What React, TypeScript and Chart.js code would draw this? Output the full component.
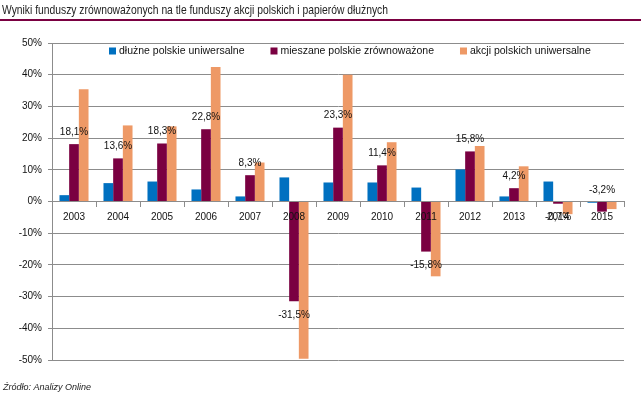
import React, { useEffect, useRef } from "react";
import { Chart, registerables } from "chart.js";

Chart.register(...registerables);

const categories = ["2003", "2004", "2005", "2006", "2007", "2008", "2009", "2010", "2011", "2012", "2013", "2014", "2015"];
const seriesNames = ["dłużne polskie uniwersalne", "mieszane polskie zrównoważone", "akcji polskich uniwersalne"];
const dluzne = [2.0, 5.8, 6.3, 3.8, 1.6, 7.6, 6.0, 6.0, 4.4, 10.1, 1.6, 6.3, -0.4];
const mieszane = [18.1, 13.6, 18.3, 22.8, 8.3, -31.5, 23.3, 11.4, -15.8, 15.8, 4.2, -0.7, -3.2];
const akcji = [35.4, 24.0, 23.7, 42.4, 12.3, -49.6, 40.0, 18.7, -23.6, 17.5, 11.1, -4.0, -2.4];
const yTicks = [-50, -40, -30, -20, -10, 0, 10, 20, 30, 40, 50];
const labelsAboveZero = ["2015"];

const title = "Wyniki funduszy zrównoważonych na tle funduszy akcji polskich i papierów dłużnych";
const source = "Źródło: Analizy Online";

const COLORS = ["#0070C0", "#7A0041", "#EE9966"];
const FONT = "'Liberation Sans', Arial, sans-serif";

export default function App() {
  const ref = useRef<HTMLCanvasElement | null>(null);

  useEffect(() => {
    document.body.style.margin = "0";
    const canvas = ref.current;
    if (!canvas) return;

    const decor = {
      id: "decor",
      afterDraw(chart: any) {
        const ctx = chart.ctx;
        ctx.save();
        // title (condensed to match the original narrow face)
        ctx.fillStyle = "#222";
        ctx.font = `13px ${FONT}`;
        ctx.textBaseline = "middle";
        ctx.textAlign = "left";
        const tw = ctx.measureText(title).width;
        ctx.save();
        ctx.translate(2, 10);
        ctx.scale(386 / tw, 1);
        ctx.fillText(title, 0, 0);
        ctx.restore();
        ctx.fillStyle = "#7A0041";
        ctx.fillRect(0, 19, 641, 2);
        // source
        ctx.fillStyle = "#222";
        ctx.font = `italic 9px ${FONT}`;
        ctx.fillText(source, 3, 387);
        // legend
        ctx.font = `10.5px ${FONT}`;
        let x = 109;
        const y = 51;
        seriesNames.forEach((name, i) => {
          ctx.fillStyle = COLORS[i];
          ctx.fillRect(x, y - 3.5, 7, 7);
          ctx.fillStyle = "#111";
          ctx.fillText(name, x + 10, y);
          x += 10 + ctx.measureText(name).width + 26;
        });
        // data labels for mieszane
        const meta = chart.getDatasetMeta(1);
        ctx.font = `10px ${FONT}`;
        ctx.textAlign = "center";
        ctx.fillStyle = "#111";
        meta.data.forEach((el: any, i: number) => {
          const v = mieszane[i];
          const text = v.toFixed(1).replace(".", ",") + "%";
          let ly;
          if (labelsAboveZero.includes(categories[i])) ly = el.base - 12;
          else ly = v >= 0 ? el.y - 12 : el.y + 14;
          ctx.fillText(text, el.x, ly);
        });
        ctx.restore();
      },
    };

    const chart = new Chart(canvas, {
      type: "bar",
      data: {
        labels: categories,
        datasets: [
          { label: seriesNames[0], data: dluzne, backgroundColor: COLORS[0] },
          { label: seriesNames[1], data: mieszane, backgroundColor: COLORS[1] },
          { label: seriesNames[2], data: akcji, backgroundColor: COLORS[2] },
        ],
      },
      options: {
        responsive: false,
        animation: false,
        layout: { padding: { top: 43, left: 0, right: 17, bottom: 35 } },
        datasets: { bar: { categoryPercentage: 0.66, barPercentage: 1.0 } },
        plugins: { legend: { display: false }, title: { display: false }, tooltip: { enabled: false } },
        scales: {
          x: {
            position: { y: 0 } as any,
            afterFit: (s: any) => { s.height = 0; },
            grid: { drawOnChartArea: false, tickLength: 5, color: "#8c8c8c", offset: true },
            border: { color: "#8c8c8c", width: 1 },
            ticks: { color: "#111", font: { family: FONT, size: 10 }, padding: 5, maxRotation: 0, z: 1 } as any,
          },
          y: {
            min: -50,
            max: 50,
            afterFit: (s: any) => { s.width = 52; },
            afterBuildTicks: (s: any) => { s.ticks = yTicks.map((v) => ({ value: v })); },
            grid: { color: "#8c8c8c", tickLength: 4 },
            border: { color: "#8c8c8c", width: 1 },
            ticks: {
              color: "#111",
              font: { family: FONT, size: 10 },
              padding: 6,
              callback: (v: any) => v + "%",
            },
          },
        },
      },
      plugins: [decor],
    });
    return () => chart.destroy();
  }, []);

  return (
    <div style={{ width: 641, height: 395 }}>
      <canvas ref={ref} width={641} height={395} style={{ display: "block" }} />
    </div>
  );
}
